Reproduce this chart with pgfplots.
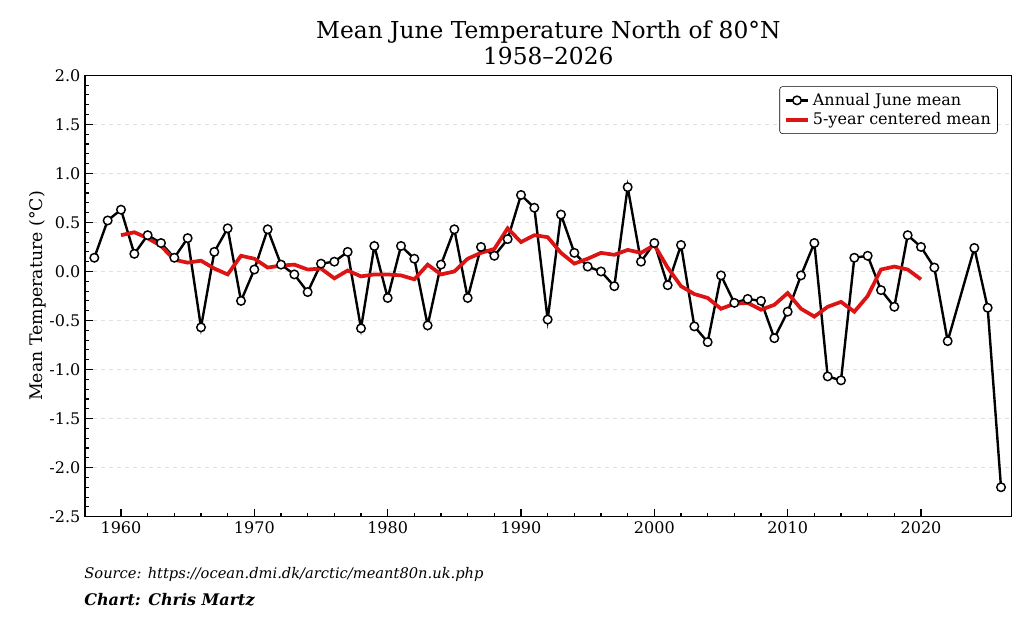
\documentclass[border=0pt]{standalone}
\usepackage{pgfplots}
\pgfplotsset{compat=1.18}
\usepackage{fontspec}
\setmainfont{DejaVu Serif}
\begin{document}
\begin{tikzpicture}
\path[use as bounding box] (-63.75pt,-80.5pt) rectangle (704.25pt,387.5pt);
\begin{axis}[
  scale only axis, width=695pt, height=331pt,
  xmin=1957.3, xmax=2026.8, ymin=-2.5, ymax=2.0,
  xtick={1960,1970,...,2020}, minor x tick num=4,
  ytick={-2.5,-2,...,2}, minor y tick num=4,
  tick align=inside, xtick pos=bottom, ytick pos=left,
  major tick length=6pt, minor tick length=3pt,
  tick style={black, line width=0.8pt},
  axis line style={line width=0.9pt},
  ymajorgrids, grid style={dashed, gray!25},
  /pgf/number format/assume math mode=true,
  /pgf/number format/.cd, fixed, fixed zerofill, precision=1, /pgfplots/.cd,
  xticklabel={\pgfmathprintnumber[fixed,precision=0,1000 sep={}]{\tick}},
  ticklabel style={font=\fontsize{12}{14}\selectfont},
  ylabel={Mean Temperature (°C)}, ylabel style={font=\fontsize{13}{15}\selectfont, yshift=-4pt},
  title={Mean June Temperature North of 80°N\\1958–2026},
  title style={align=center, font=\fontsize{17.5}{20}\selectfont, yshift=-2pt},
  legend style={at={(0.985,0.975)}, anchor=north east, draw=black, font=\fontsize{12}{14}\selectfont, rounded corners=2pt, cells={anchor=west}, inner sep=3pt},
  legend cell align=left,
]
\addplot[black, line width=1.8pt, mark=*, mark size=3.2pt, mark options={fill=white, draw=black, line width=1.1pt}] coordinates {
(1958,0.14)(1959,0.52)(1960,0.63)(1961,0.18)(1962,0.37)(1963,0.29)(1964,0.14)(1965,0.34)(1966,-0.57)(1967,0.20)(1968,0.44)(1969,-0.30)(1970,0.02)(1971,0.43)(1972,0.07)(1973,-0.03)(1974,-0.21)(1975,0.08)(1976,0.10)(1977,0.20)(1978,-0.58)(1979,0.26)(1980,-0.27)(1981,0.26)(1982,0.13)(1983,-0.55)(1984,0.07)(1985,0.43)(1986,-0.27)(1987,0.25)(1988,0.16)(1989,0.33)(1990,0.78)(1991,0.65)(1992,-0.49)(1993,0.58)(1994,0.19)(1995,0.05)(1996,0.00)(1997,-0.15)(1998,0.86)(1999,0.10)(2000,0.29)(2001,-0.14)(2002,0.27)(2003,-0.56)(2004,-0.72)(2005,-0.04)(2006,-0.32)(2007,-0.28)(2008,-0.30)(2009,-0.68)(2010,-0.41)(2011,-0.04)(2012,0.29)(2013,-1.07)(2014,-1.11)(2015,0.14)(2016,0.16)(2017,-0.19)(2018,-0.36)(2019,0.37)(2020,0.25)(2021,0.04)(2022,-0.71)(2024,0.24)(2025,-0.37)(2026,-2.20)};
\addlegendentry{Annual June mean}
\addplot[color={rgb,255:red,220;green,20;blue,20}, line width=2.8pt, no marks] coordinates {
(1960,0.37)(1961,0.40)(1962,0.34)(1963,0.26)(1964,0.12)(1965,0.09)(1966,0.11)(1967,0.03)(1968,-0.03)(1969,0.16)(1970,0.13)(1971,0.04)(1972,0.06)(1973,0.07)(1974,0.02)(1975,0.03)(1976,-0.07)(1977,0.01)(1978,-0.05)(1979,-0.03)(1980,-0.03)(1981,-0.04)(1982,-0.08)(1983,0.07)(1984,-0.03)(1985,0.00)(1986,0.13)(1987,0.19)(1988,0.23)(1989,0.44)(1990,0.30)(1991,0.37)(1992,0.35)(1993,0.19)(1994,0.08)(1995,0.13)(1996,0.19)(1997,0.17)(1998,0.22)(1999,0.19)(2000,0.27)(2001,0.04)(2002,-0.15)(2003,-0.23)(2004,-0.27)(2005,-0.38)(2006,-0.33)(2007,-0.32)(2008,-0.39)(2009,-0.34)(2010,-0.22)(2011,-0.38)(2012,-0.46)(2013,-0.36)(2014,-0.31)(2015,-0.41)(2016,-0.25)(2017,0.02)(2018,0.05)(2019,0.02)(2020,-0.08)};
\addlegendentry{5-year centered mean}
\end{axis}
\node[anchor=west, font=\fontsize{11}{13}\selectfont\itshape] at (-4pt,-43pt) {Source: https://ocean.dmi.dk/arctic/meant80n.uk.php};
\node[anchor=west, font=\fontsize{12}{14}\selectfont\bfseries\itshape] at (-4pt,-62pt) {Chart: Chris Martz};
\end{tikzpicture}
\end{document}
